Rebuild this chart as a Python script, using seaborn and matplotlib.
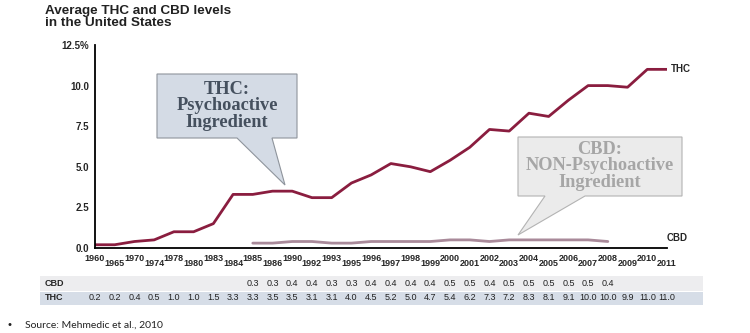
import matplotlib
matplotlib.use("Agg")
import matplotlib.pyplot as plt
import matplotlib.transforms as mtrans
from matplotlib.patches import Polygon, Rectangle
import numpy as np
import pandas as pd
import seaborn as sns

years = ["1960", "1965", "1970", "1974", "1978", "1980", "1983", "1984", "1985", "1986",
         "1990", "1992", "1993", "1995", "1996", "1997", "1998", "1999", "2000", "2001",
         "2002", "2003", "2004", "2005", "2006", "2007", "2008", "2009", "2010", "2011"]
thc = [0.2, 0.2, 0.4, 0.5, 1.0, 1.0, 1.5, 3.3, 3.3, 3.5, 3.5, 3.1, 3.1, 4.0, 4.5, 5.2,
       5.0, 4.7, 5.4, 6.2, 7.3, 7.2, 8.3, 8.1, 9.1, 10.0, 10.0, 9.9, 11.0, 11.0]
cbd_years = ["1985", "1986", "1990", "1992", "1993", "1995", "1996", "1997", "1998", "1999",
             "2000", "2001", "2002", "2003", "2004", "2005", "2006", "2007", "2008"]
cbd = [0.3, 0.3, 0.4, 0.4, 0.3, 0.3, 0.4, 0.4, 0.4, 0.4, 0.5, 0.5, 0.4, 0.5, 0.5,
       0.5, 0.5, 0.5, 0.4]
y_ticks = [0.0, 2.5, 5.0, 7.5, 10.0, 12.5]
y_labels = ["0.0", "2.5", "5.0", "7.5", "10.0", "12.5%"]

sns.set_style("white")
plt.rcParams['font.family'] = ['Liberation Sans', 'DejaVu Sans']

W, H = 750, 333
fig = plt.figure(figsize=(7.5, 3.33), dpi=100)

def fx(x):
    return x / W

def fy(y):
    return 1 - y / H

ax = fig.add_axes([fx(95), fy(248), fx(667) - fx(95), fy(45) - fy(248)])
ax.patch.set_alpha(0)

pos = {y: i for i, y in enumerate(years)}
df_thc = pd.DataFrame({"x": [pos[y] for y in years], "v": thc})
df_cbd = pd.DataFrame({"x": [pos[y] for y in cbd_years], "v": cbd})

THC_C = "#8a1d3f"
CBD_C = "#a98a9a"
sns.lineplot(data=df_cbd, x="x", y="v", ax=ax, color=CBD_C, lw=2.0)
sns.lineplot(data=df_thc, x="x", y="v", ax=ax, color=THC_C, lw=2.0)

ax.set_xlim(0, len(years) - 1)
ax.set_ylim(0, 12.5)
ax.set_xlabel("")
ax.set_ylabel("")
for s in ["top", "right"]:
    ax.spines[s].set_visible(False)
for s in ["left", "bottom"]:
    ax.spines[s].set_color("black")
    ax.spines[s].set_linewidth(1.3)

ax.set_yticks(y_ticks, y_labels)
ax.tick_params(axis="y", length=3, width=1, pad=1, labelsize=7, color="black")
for t in ax.get_yticklabels():
    t.set_fontweight("bold")

even = list(range(0, len(years), 2))
odd = list(range(1, len(years), 2))
ax.set_xticks(even, [years[i] for i in even])
ax.set_xticks(odd, [years[i] for i in odd], minor=True)
ax.tick_params(axis="x", which="major", length=3, width=1, pad=1, labelsize=6.5, color="black")
ax.tick_params(axis="x", which="minor", length=7, width=1, pad=1, labelsize=6.5, color="black")
for t in ax.get_xticklabels(which="both"):
    t.set_fontweight("bold")

# end labels
ax.annotate("THC", xy=(len(years) - 1, thc[-1]), xytext=(3, 0), textcoords="offset points",
            ha="left", va="center", fontsize=7, fontweight="bold", annotation_clip=False)
ax.annotate("CBD", xy=(len(years) - 1, 0.6), xytext=(0, 0), textcoords="offset points",
            ha="left", va="center", fontsize=7, fontweight="bold", annotation_clip=False)

# callouts
def poly(pts, fc, ec):
    p = Polygon([(fx(x), fy(y)) for x, y in pts], closed=True, transform=fig.transFigure,
                facecolor=fc, edgecolor=ec, lw=0.8, zorder=5)
    fig.patches.append(p)

poly([(157, 74), (297, 74), (297, 138), (272, 138), (285, 185), (237, 138), (157, 138)],
     "#d4dbe5", "#8e949c")
fig.text(fx(227), fy(106), "THC:\nPsychoactive\nIngredient", ha="center", va="center",
         family=["Liberation Serif"], fontweight="bold", fontsize=13.2, color="#45505e",
         linespacing=0.95, zorder=6)

poly([(518, 137), (682, 137), (682, 196), (585, 196), (518, 235), (545, 196), (518, 196)],
     "#ebebeb", "#b3b3b3")
fig.text(fx(600), fy(166), "CBD:\nNON-Psychoactive\nIngredient", ha="center", va="center",
         family=["Liberation Serif"], fontweight="bold", fontsize=13.2, color="#a6a6a6",
         linespacing=0.95, zorder=6)

# title
fig.text(fx(45), fy(11), "Average THC and CBD levels", ha="left", va="center",
         fontsize=9.7, fontweight="bold", color="#222222")
fig.text(fx(45), fy(23.5), "in the United States", ha="left", va="center",
         fontsize=9.7, fontweight="bold", color="#222222")

# table
fig.patches.append(Rectangle((fx(40), fy(291)), fx(703) - fx(40), fy(276) - fy(291),
                             transform=fig.transFigure, facecolor="#ededef", edgecolor="none", zorder=-2))
fig.patches.append(Rectangle((fx(40), fy(305)), fx(703) - fx(40), fy(292) - fy(305),
                             transform=fig.transFigure, facecolor="#d6dde7", edgecolor="none", zorder=-2))
blend = mtrans.blended_transform_factory(ax.transData, fig.transFigure)
fig.text(fx(45), fy(283.5), "CBD", ha="left", va="center", fontsize=6.5, fontweight="bold")
fig.text(fx(45), fy(298), "THC", ha="left", va="center", fontsize=6.5, fontweight="bold")
for y, v in zip(cbd_years, cbd):
    ax.text(pos[y], fy(283.5), f"{v:.1f}", transform=blend, ha="center", va="center",
            fontsize=6.5, color="#222222", clip_on=False)
for y, v in zip(years, thc):
    ax.text(pos[y], fy(298), f"{v:.1f}", transform=blend, ha="center", va="center",
            fontsize=6.5, color="#222222", clip_on=False)

# footer
fig.text(fx(8), fy(325), "•", ha="left", va="center", fontsize=8, color="#222222")
fig.text(fx(25), fy(325), "Source: Mehmedic et al., 2010", ha="left", va="center",
         family=["Lato"], fontsize=7.5, color="#222222")

fig.savefig("out.png", dpi=100)
